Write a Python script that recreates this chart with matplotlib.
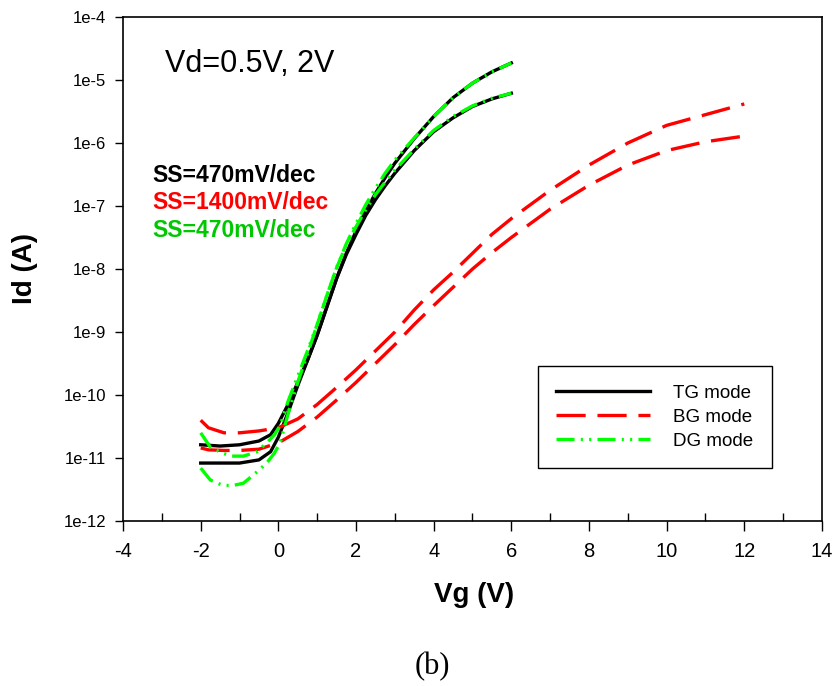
import numpy as np
import matplotlib.pyplot as plt

plt.rcParams['font.family'] = ['Liberation Sans', 'DejaVu Sans']
plt.rcParams['lines.scale_dashes'] = False
plt.rcParams['axes.unicode_minus'] = False

# TG mode (black), Vd = 2V and 0.5V, log10(Id)
vg_tg = [-2, -1.5, -1, -0.5, -0.2, 0, 0.25, 0.5, 0.75, 1, 1.25, 1.5, 1.75, 2, 2.25, 2.5, 2.75, 3, 3.5, 4, 4.5, 5, 5.5, 6]
tg_hi = [-10.79, -10.81, -10.79, -10.73, -10.63, -10.45, -10.15, -9.8, -9.45, -9.05, -8.6, -8.15, -7.75, -7.4, -7.08, -6.8, -6.55, -6.32, -5.93, -5.58, -5.28, -5.05, -4.87, -4.73]
tg_lo = [-11.08, -11.08, -11.08, -11.03, -10.9, -10.67, -10.28, -9.85, -9.45, -9.05, -8.6, -8.15, -7.77, -7.45, -7.15, -6.9, -6.68, -6.48, -6.12, -5.82, -5.6, -5.42, -5.3, -5.21]

# BG mode (red)
vg_bg = [-2, -1.8, -1.4, -1, -0.5, 0, 0.5, 1, 1.5, 2, 2.5, 3, 3.5, 4, 4.5, 5, 5.5, 6, 7, 8, 9, 10, 11, 12]
bg_hi = [-10.4, -10.52, -10.6, -10.6, -10.57, -10.52, -10.38, -10.15, -9.88, -9.6, -9.3, -9.0, -8.65, -8.33, -8.05, -7.75, -7.45, -7.2, -6.75, -6.35, -6.0, -5.72, -5.55, -5.38]
bg_lo = [-10.84, -10.87, -10.88, -10.88, -10.86, -10.76, -10.58, -10.35, -10.08, -9.8, -9.5, -9.2, -8.88, -8.58, -8.29, -8.0, -7.74, -7.5, -7.05, -6.67, -6.35, -6.12, -5.98, -5.89]

# DG mode (green)
vg_dg = [-2, -1.75, -1.45, -1.2, -0.9, -0.55, -0.3, -0.1, 0.05, 0.25, 0.5, 0.75, 1, 1.25, 1.5, 1.75, 2, 2.25, 2.5, 2.75, 3, 3.5, 4, 4.5, 5, 5.5, 6]
dg_hi = [-10.6, -10.83, -10.92, -10.97, -10.97, -10.9, -10.76, -10.63, -10.48, -10.1, -9.7, -9.3, -8.88, -8.42, -7.98, -7.6, -7.28, -6.98, -6.72, -6.48, -6.27, -5.92, -5.58, -5.28, -5.05, -4.87, -4.73]
dg_lo = [-11.16, -11.35, -11.43, -11.44, -11.4, -11.22, -11.08, -10.92, -10.75, -10.3, -9.8, -9.35, -8.88, -8.42, -7.98, -7.62, -7.33, -7.06, -6.82, -6.62, -6.43, -6.1, -5.8, -5.58, -5.41, -5.29, -5.21]

yticks = [1e-12, 1e-11, 1e-10, 1e-9, 1e-8, 1e-7, 1e-6, 1e-5, 1e-4]
ylabels = ['1e-12', '1e-11', '1e-10', '1e-9', '1e-8', '1e-7', '1e-6', '1e-5', '1e-4']

fig = plt.figure(figsize=(8.37, 6.86), dpi=100)
ax = fig.add_axes([0.147, 0.2405, 0.835, 0.7347])

lw = 2.4
dash_bg = (0, (21, 8.5))
dash_dg = (0, (13, 4.5, 1.5, 4.5, 1.5, 4.5))

ax.plot(vg_tg, 10**np.array(tg_hi), color='black', lw=lw, label='TG mode')
ax.plot(vg_tg, 10**np.array(tg_lo), color='black', lw=lw)
ax.plot(vg_bg, 10**np.array(bg_hi), color='#ff0000', lw=lw, ls=dash_bg, label='BG mode')
ax.plot(vg_bg, 10**np.array(bg_lo), color='#ff0000', lw=lw, ls=dash_bg)
ax.plot(vg_dg, 10**np.array(dg_hi), color='#00ff00', lw=lw, ls=dash_dg, label='DG mode')
ax.plot(vg_dg, 10**np.array(dg_lo), color='#00ff00', lw=lw, ls=dash_dg)

ax.set_yscale('log')
ax.set_xlim(-4, 14)
ax.set_ylim(1e-12, 1e-4)
ax.set_yticks(yticks)
ax.set_yticklabels(ylabels)
ax.minorticks_off()
ax.set_xticks(np.arange(-4, 15, 2))
ax.set_xticks(np.arange(-3, 14, 2), minor=True)
ax.tick_params(axis='x', which='major', direction='out', length=7, width=1, labelsize=14.5, pad=8)
ax.tick_params(axis='x', which='minor', direction='in', length=6, width=1)
ax.tick_params(axis='y', which='major', direction='out', length=6, width=1, labelsize=12, pad=6)
ax.tick_params(axis='y', which='minor', left=False)
for s in ax.spines.values():
    s.set_linewidth(1.2)

ax.set_xlabel('Vg (V)', fontsize=20, fontweight='bold', va='center')
ax.set_ylabel('Id (A)', fontsize=20, fontweight='bold', va='center')
ax.xaxis.set_label_coords(0.502, -0.147)
ax.yaxis.set_label_coords(-0.14, 0.502)

ax.text(0.06, 0.907, 'Vd=0.5V, 2V', transform=ax.transAxes, fontsize=22, va='center')
ax.text(0.0415, 0.685, 'SS=470mV/dec', transform=ax.transAxes, fontsize=16.5, fontweight='bold', color='black', va='center')
ax.text(0.0415, 0.631, 'SS=1400mV/dec', transform=ax.transAxes, fontsize=16.5, fontweight='bold', color='#ff0000', va='center')
ax.text(0.0415, 0.577, 'SS=470mV/dec', transform=ax.transAxes, fontsize=16.5, fontweight='bold', color='#00c800', va='center')

leg = ax.legend(loc='upper right', bbox_to_anchor=(0.928, 0.3075), fontsize=13.5, handlelength=5.0,
                handletextpad=1.2, borderpad=1.0, labelspacing=0.36, fancybox=False, framealpha=1,
                borderaxespad=0)
leg.get_frame().set_edgecolor('black')
leg.get_frame().set_linewidth(1)

fig.text(0.517, 0.028, '(b)', fontsize=22, family='Liberation Serif', ha='center', va='center')

fig.savefig('out.png', dpi=100)
